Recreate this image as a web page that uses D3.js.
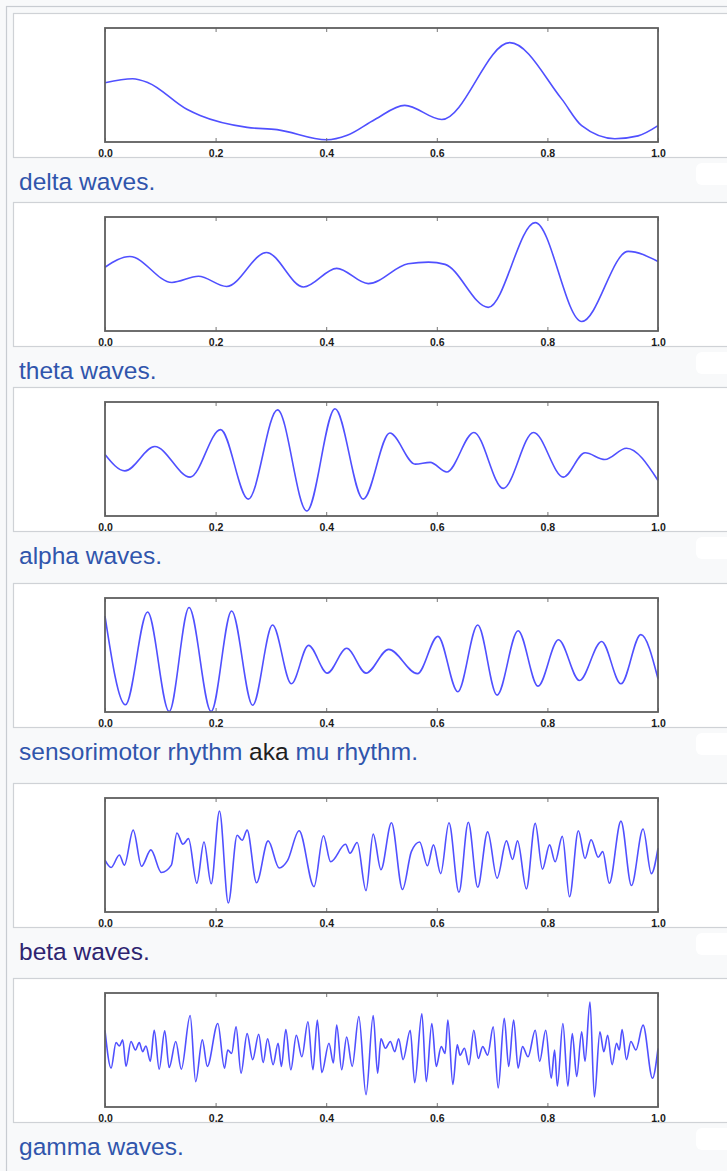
<!DOCTYPE html>
<html>
<head>
<meta charset="utf-8">
<script src="https://cdn.jsdelivr.net/npm/d3@7/dist/d3.min.js"></script>
<style>
  html, body { margin: 0; padding: 0; background: #f8f9fa; }
  svg { display: block; }
</style>
</head>
<body>
<script>
// EEG rhythm samples: [time (s, normalised 0..1), amplitude (arbitrary units, -1..1)]
const deltaWave = [
  [0,0.04],[0.05,0.11],[0.078,0.04],[0.148,-0.43],[0.172,-0.54],[0.257,-0.75],[0.311,-0.79],
  [0.401,-0.97],[0.438,-0.89],[0.488,-0.61],[0.542,-0.36],[0.609,-0.61],
  [0.732,0.75],[0.826,-0.25],[0.862,-0.72],[0.922,-0.95],[0.964,-0.90],[1,-0.72]
];
const thetaWave = [
  [0,0.12],[0.045,0.31],[0.121,-0.15],[0.169,-0.04],[0.220,-0.22],[0.292,0.38],[0.359,-0.23],
  [0.419,0.10],[0.476,-0.17],[0.548,0.18],[0.585,0.21],[0.615,0.17],[0.693,-0.59],[0.778,0.91],
  [0.862,-0.84],[0.946,0.40],[1,0.22]
];
const alphaWave = [
  [0,0.08],[0.036,-0.21],[0.090,0.22],[0.154,-0.32],[0.209,0.52],[0.259,-0.71],[0.312,0.87],
  [0.365,-0.92],[0.416,0.89],[0.467,-0.71],[0.515,0.46],[0.561,-0.09],[0.588,-0.06],[0.618,-0.23],
  [0.667,0.47],[0.720,-0.52],[0.775,0.47],[0.829,-0.32],[0.868,0.11],[0.904,-0.01],[0.943,0.19],[1,-0.38]
];
const muRhythm = [
  [0,0.69],[0.037,-0.88],[0.077,0.76],[0.116,-1.0],[0.152,0.84],[0.192,-1.0],[0.229,0.78],
  [0.267,-0.89],[0.303,0.53],[0.337,-0.51],[0.368,0.17],[0.402,-0.32],[0.437,0.12],[0.472,-0.32],
  [0.513,0.10],[0.565,-0.33],[0.602,0.33],[0.638,-0.65],[0.674,0.53],[0.709,-0.71],[0.747,0.43],
  [0.783,-0.55],[0.820,0.27],[0.858,-0.45],[0.898,0.24],[0.933,-0.51],[0.969,0.36],[1,-0.42]
];
const betaWave = [
  [0,-0.09],[0.011,-0.22],[0.026,0.00],[0.035,-0.18],[0.051,0.44],[0.066,-0.20],[0.083,0.09],
  [0.102,-0.31],[0.120,-0.18],[0.130,0.39],[0.141,0.19],[0.151,0.29],[0.166,-0.50],[0.179,0.23],
  [0.192,-0.51],[0.207,0.78],[0.223,-0.85],[0.239,0.35],[0.248,0.26],[0.257,0.44],[0.274,-0.49],
  [0.295,0.25],[0.315,-0.23],[0.330,-0.10],[0.351,0.43],[0.378,-0.56],[0.395,0.34],[0.408,-0.12],
  [0.435,0.19],[0.443,0.03],[0.456,0.22],[0.472,-0.63],[0.485,0.37],[0.499,-0.26],[0.518,0.57],
  [0.538,-0.61],[0.554,0.06],[0.569,0.23],[0.583,-0.19],[0.594,0.18],[0.607,-0.33],[0.622,0.57],
  [0.640,-0.66],[0.657,0.58],[0.674,-0.57],[0.692,0.41],[0.709,-0.41],[0.726,0.25],[0.737,-0.08],
  [0.746,0.25],[0.762,-0.60],[0.778,0.56],[0.791,-0.25],[0.804,0.18],[0.814,-0.12],[0.827,0.33],
  [0.840,-0.74],[0.856,0.43],[0.868,-0.06],[0.879,0.27],[0.892,-0.04],[0.900,0.06],[0.912,-0.50],
  [0.933,0.60],[0.952,-0.54],[0.973,0.46],[0.988,-0.33],[1,0.12]
];
const gammaWave = [
  [0,0.35],[0.011,-0.32],[0.020,0.13],[0.026,0.07],[0.032,0.18],[0.038,-0.29],[0.047,0.15],
  [0.055,0.00],[0.062,0.13],[0.068,-0.03],[0.074,0.07],[0.082,-0.20],[0.089,0.35],[0.098,-0.34],
  [0.108,0.34],[0.116,-0.31],[0.128,0.15],[0.138,-0.34],[0.154,0.61],[0.164,-0.56],[0.176,0.18],
  [0.185,-0.29],[0.204,0.47],[0.216,-0.32],[0.222,0.00],[0.229,-0.06],[0.237,0.41],[0.246,-0.41],
  [0.257,0.29],[0.267,-0.17],[0.278,0.28],[0.286,-0.22],[0.294,0.20],[0.304,-0.26],[0.313,0.12],
  [0.319,-0.29],[0.327,0.36],[0.336,-0.35],[0.346,0.26],[0.356,-0.12],[0.367,0.50],[0.376,-0.35],
  [0.384,0.53],[0.392,-0.40],[0.405,0.12],[0.413,-0.23],[0.419,0.44],[0.428,-0.35],[0.437,0.23],
  [0.447,-0.29],[0.459,0.59],[0.472,-0.79],[0.485,0.61],[0.493,-0.41],[0.499,0.20],[0.507,0.03],
  [0.516,0.15],[0.524,-0.03],[0.531,0.20],[0.539,-0.17],[0.552,0.35],[0.560,-0.58],[0.573,0.64],
  [0.581,-0.56],[0.591,0.47],[0.599,-0.29],[0.608,0.06],[0.615,-0.06],[0.620,0.53],[0.629,-0.61],
  [0.637,0.09],[0.642,-0.09],[0.650,0.03],[0.658,-0.26],[0.667,0.35],[0.675,-0.15],[0.683,0.06],
  [0.692,-0.09],[0.702,0.41],[0.711,-0.67],[0.722,0.56],[0.730,-0.29],[0.739,0.53],[0.747,-0.32],
  [0.755,0.06],[0.765,-0.12],[0.778,0.35],[0.786,-0.20],[0.797,0.35],[0.807,-0.50],[0.813,0.00],
  [0.818,-0.64],[0.828,0.47],[0.837,-0.64],[0.845,0.29],[0.853,-0.47],[0.862,0.32],[0.868,-0.20],
  [0.877,0.85],[0.885,-0.83],[0.895,0.32],[0.902,-0.03],[0.909,0.26],[0.917,-0.26],[0.925,0.12],
  [0.930,0.00],[0.935,0.36],[0.943,-0.17],[0.951,0.15],[0.960,0.00],[0.973,0.44],[0.990,-0.50],[1,0.03]
];

const tickValues = [0, 0.2, 0.4, 0.6, 0.8, 1.0];

// Caption pieces: "link" = unvisited link, "visited" = visited link, "plain" = body text
const captions = [
  [["delta waves", "link"], [".", "plain-link"]],
  [["theta waves", "link"], [".", "plain-link"]],
  [["alpha waves", "link"], [".", "plain-link"]],
  [["sensorimotor rhythm", "link"], [" aka ", "plain"], ["mu rhythm", "link"], [".", "plain-link"]],
  [["beta waves", "visited"], [".", "plain-visited"]],
  [["gamma waves", "link"], [".", "plain-link"]]
];

const series = [deltaWave, thetaWave, alphaWave, muRhythm, betaWave, gammaWave];

// ---- layout ----
const W = 727, H = 1171;
const boxTops = [13, 202, 387, 583, 783, 978];
const boxH = 144;
const plotLeft = 105, plotRight = 658;
const plotOffsetTop = 15, plotH = 114;

const captionColor = {
  "link": "#3055ac",
  "plain-link": "#3055ac",
  "visited": "#2e2470",
  "plain-visited": "#2e2470",
  "plain": "#1f1f1f"
};

const svg = d3.select("body").append("svg")
  .attr("width", W).attr("height", H)
  .attr("viewBox", `0 0 ${W} ${H}`);

// page background and outer thumbnail border
svg.append("rect").attr("x", 0).attr("y", 0).attr("width", W).attr("height", H).attr("fill", "#f8f9fa");
svg.append("rect")
  .attr("x", 6.5).attr("y", 6.5).attr("width", W + 20).attr("height", H + 20)
  .attr("fill", "#f8f9fa").attr("stroke", "#c8ccd1").attr("stroke-width", 1.2);

const x = d3.scaleLinear().domain([0, 1]).range([plotLeft, plotRight]);

const line = d3.line()
  .x(d => x(d[0]))
  .curve(d3.curveMonotoneX);

series.forEach((data, i) => {
  const top = boxTops[i];
  const g = svg.append("g");

  // white image area
  g.append("rect")
    .attr("x", 13.5).attr("y", top + 0.5)
    .attr("width", W + 20).attr("height", boxH)
    .attr("fill", "#ffffff").attr("stroke", "#cfd2d6").attr("stroke-width", 1.2);

  const fTop = top + plotOffsetTop, fBot = fTop + plotH;
  const y = d3.scaleLinear().domain([-1, 1]).range([fBot - 0.5, fTop + 0.5]);

  // the signal
  g.append("path")
    .datum(data)
    .attr("fill", "none")
    .attr("stroke", "#5050ff")
    .attr("stroke-width", 1.6)
    .attr("stroke-linejoin", "round")
    .attr("d", line.y(d => y(d[1])));

  // bottom axis with inward ticks and bold labels
  const bottomAxis = d3.axisBottom(x)
    .tickValues(tickValues)
    .tickFormat(d3.format(".1f"))
    .tickSizeInner(-4).tickSizeOuter(0).tickPadding(7.2);
  const ax = g.append("g").attr("transform", `translate(0,${fBot})`).call(bottomAxis);
  ax.select(".domain").remove();
  ax.selectAll(".tick line").attr("stroke", "#777").attr("stroke-width", 1);
  ax.selectAll(".tick text")
    .attr("fill", "#1a1a1a")
    .style("font-family", "'Liberation Sans', Arial, sans-serif")
    .style("font-weight", "bold")
    .style("font-size", "10.5px");

  // top axis: inward ticks only
  const topAxis = d3.axisTop(x).tickValues(tickValues).tickFormat("")
    .tickSizeInner(-4).tickSizeOuter(0);
  const ax2 = g.append("g").attr("transform", `translate(0,${fTop})`).call(topAxis);
  ax2.select(".domain").remove();
  ax2.selectAll(".tick line").attr("stroke", "#777").attr("stroke-width", 1);

  // plot frame
  g.append("rect")
    .attr("x", plotLeft).attr("y", fTop)
    .attr("width", plotRight - plotLeft).attr("height", plotH)
    .attr("fill", "none").attr("stroke", "#5f5f5f").attr("stroke-width", 1.8);

  // caption
  const cap = g.append("text")
    .attr("x", 19).attr("y", top + boxH + 33)
    .style("font-family", "'Liberation Sans', Arial, sans-serif")
    .style("font-size", "24.5px");
  cap.selectAll("tspan").data(captions[i]).join("tspan")
    .attr("fill", d => captionColor[d[1]])
    .style("white-space", "pre")
    .text(d => d[0]);

  // rounded white patch at the right end of the caption row
  g.append("rect")
    .attr("x", 696).attr("y", top + boxH + 6)
    .attr("width", 50).attr("height", 22).attr("rx", 6)
    .attr("fill", "#ffffff");
});
</script>
</body>
</html>
